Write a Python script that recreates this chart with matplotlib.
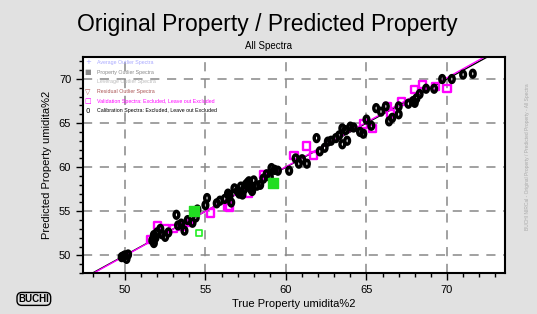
import matplotlib
matplotlib.use("Agg")
import matplotlib.pyplot as plt
from matplotlib.ticker import MultipleLocator
from matplotlib.path import Path
import numpy as np

# Calibration spectra (black)
cal_x = [49.8, 50.0, 50.2, 50.1, 51.7, 51.8, 51.9, 52.2, 52.7, 53.2, 53.5, 53.7, 54.2, 55.1, 55.7,
         56.5, 56.4, 56.6, 57.0, 57.2, 57.4, 57.6, 57.8, 58.0, 58.2, 58.8, 59.1, 59.5, 60.2, 60.8,
         61.3, 61.9, 62.1, 63.1, 63.5, 63.8, 63.5, 64.0, 64.8, 65.3, 65.6, 66.2, 66.4, 67.0, 67.0,
         68.0, 68.1, 68.7, 69.2, 69.7, 70.3, 71.0, 71.6, 52.5, 55.9, 57.3, 62.6,
         51.8, 52.0, 52.3, 53.3, 53.9, 54.4, 54.5, 56.8, 57.1, 57.5, 57.9, 58.4, 58.6, 59.0,
         59.3, 60.6, 61.0, 62.4, 62.8, 63.3, 63.7, 64.2, 64.6, 65.0, 65.9, 66.6, 67.6, 67.9,
         68.3, 55.0, 57.7, 49.9, 56.2]
cal_y = [49.8, 50.0, 50.1, 49.6, 51.7, 52.3, 52.0, 53.0, 52.6, 54.6, 53.6, 52.8, 53.7, 56.5, 55.9,
         56.8, 57.0, 56.0, 57.3, 57.8, 57.5, 58.2, 57.6, 58.5, 57.9, 59.2, 59.9, 59.6, 59.6, 60.4,
         60.4, 63.3, 61.8, 63.3, 62.6, 63.0, 64.4, 64.6, 63.8, 64.7, 66.7, 66.9, 65.2, 66.0, 66.9,
         67.3, 67.8, 68.9, 68.9, 70.0, 70.0, 70.5, 70.6, 52.1, 56.2, 56.9, 62.9,
         51.4, 52.6, 52.4, 53.4, 54.0, 54.3, 55.2, 57.6, 57.0, 58.0, 57.3, 58.0, 58.7, 58.9,
         59.7, 61.0, 60.9, 62.2, 63.0, 63.6, 64.2, 64.5, 64.0, 65.4, 66.3, 65.6, 67.2, 67.5,
         68.3, 55.7, 58.4, 49.9, 56.4]

# Validation spectra (magenta)
val_x = [52.0, 52.5, 53.0, 54.0, 55.3, 56.4, 56.5, 58.6, 60.5, 61.3, 61.7, 64.8, 65.4, 66.3, 66.5,
         67.2, 68.0, 68.5, 69.3, 70.0, 51.6, 57.7, 53.6]
val_y = [53.4, 53.0, 53.0, 53.7, 54.8, 55.6, 55.4, 59.2, 61.3, 62.4, 61.3, 64.9, 64.4, 66.9, 66.1,
         67.5, 68.8, 69.4, 69.2, 68.9, 51.8, 57.0, 53.3]

# Outliers (green)
out_fill_x = [54.3, 59.2]
out_fill_y = [55.0, 58.2]
out_open_x = [54.6]
out_open_y = [52.5]

x_ticks = [50, 55, 60, 65, 70]
y_ticks = [50, 55, 60, 65, 70]

# vertical ellipse marker ("0"-like)
t = np.linspace(0, 2 * np.pi, 40)
ell = Path(np.column_stack([0.68 * np.cos(t), np.sin(t)]), closed=True)

fn = "Liberation Sans"
plt.rcParams["font.family"] = [fn, "DejaVu Sans"]

fig = plt.figure(figsize=(5.37, 3.14), dpi=100, facecolor="#e1e1e1")
ax = fig.add_axes([0.1546, 0.1306, 0.7858, 0.6879])
ax.set_facecolor("white")
ax.set_xlim(47.4, 73.6)
ax.set_ylim(48.0, 72.5)

# Lines
lx = np.array([47.0, 74.0])
ax.plot(lx, lx, color="black", lw=1.0, zorder=2)
ax.plot(lx, 1.01 * lx - 0.55, color="#ff00ff", lw=1.0, zorder=2)

ax.scatter(val_x, val_y, marker="s", s=26, facecolors="none", edgecolors="#ff00ff", linewidths=1.7, zorder=3)
ax.scatter(cal_x, cal_y, marker=ell, s=24, facecolors="none", edgecolors="black", linewidths=2.5, zorder=4)
ax.scatter(out_fill_x, out_fill_y, marker="s", s=42, facecolors="#22dd22", edgecolors="#22dd22", zorder=5)
ax.scatter(out_open_x, out_open_y, marker="s", s=18, facecolors="none", edgecolors="#22ee22", linewidths=1.2, zorder=5)

ax.set_xticks(x_ticks)
ax.set_yticks(y_ticks)
ax.xaxis.set_minor_locator(MultipleLocator(1))
ax.yaxis.set_minor_locator(MultipleLocator(1))
ax.tick_params(which="major", direction="out", length=5, width=1, labelsize=8)
ax.tick_params(which="minor", direction="out", length=3, width=1)
ax.grid(True, which="major", color="#888888", linestyle=(0, (6, 5)), linewidth=1.1)
ax.set_axisbelow(True)
for sp in ax.spines.values():
    sp.set_linewidth(1.5)

ax.set_xlabel("True Property umidita%2", fontsize=8, labelpad=3)
ax.set_ylabel("Predicted Property umidita%2", fontsize=8, labelpad=5)

fig.text(0.498, 0.922, "Original Property / Predicted Property", ha="center", va="center",
         fontsize=16.5)
fig.text(0.500, 0.853, "All Spectra", ha="center", va="center", fontsize=7)

# Legend-like text block
leg = [("+", "#aaaaff", "Average Outlier Spectra"),
       ("\u25a0", "#888888", "Property Outlier Spectra"),
       ("", "#bbbbbb", "Leverage Outlier Spectra"),
       ("\u25bd", "#aa5555", "Residual Outlier Spectra"),
       ("\u25a1", "#ff00ff", "Validation Spectra: Excluded, Leave out Excluded"),
       ("0", "#000000", "Calibration Spectra: Excluded, Leave out Excluded")]
for i, (sym, col, txt) in enumerate(leg):
    yy = 0.975 - i * 0.045
    ax.text(0.012, yy, sym, transform=ax.transAxes, color=col, fontsize=5, va="center", ha="center",
            family=["DejaVu Sans"])
    ax.text(0.032, yy, txt, transform=ax.transAxes, color=col, fontsize=3.8, va="center")

# BUCHI logo
fig.text(0.063, 0.048, "BUCHI", ha="center", va="center", fontsize=7, weight="bold",
         bbox=dict(boxstyle="round,pad=0.15,rounding_size=0.5", facecolor="#e1e1e1", edgecolor="black", lw=1.0))

# faint vertical side text
fig.text(0.983, 0.5, "BUCHI NIRCal - Original Property / Predicted Property - All Spectra", rotation=90,
         ha="center", va="center", fontsize=3.5, color="#aaaaaa")

fig.savefig("out.png", dpi=100, facecolor=fig.get_facecolor())
